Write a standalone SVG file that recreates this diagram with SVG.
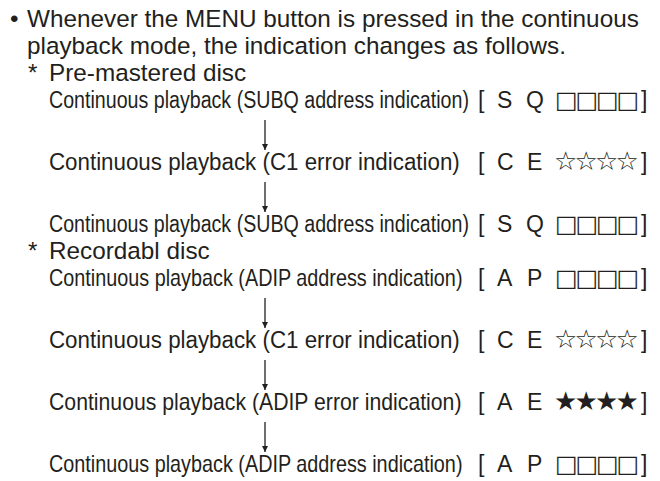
<svg xmlns="http://www.w3.org/2000/svg" width="660" height="481" viewBox="0 0 660 481">
<defs>
<style>
text{font-family:"Liberation Sans",Arial,Helvetica,sans-serif;fill:#231f20}
.h{font-size:24.3px}
.c{font-size:23px}
.s{font-family:"DejaVu Sans",sans-serif;font-size:24px}
.st{font-family:"DejaVu Sans",sans-serif;font-size:26px}
.cn{stroke:#231f20;stroke-width:1.3;fill:none}
</style>
<marker id="ah" viewBox="0 0 10 10" refX="10" refY="5" markerWidth="6" markerHeight="8" markerUnits="userSpaceOnUse" orient="auto"><path d="M0,0 L10,5 L0,10 z" fill="#231f20"/></marker>
</defs>
<rect width="660" height="481" fill="#fff"/>
<g id="intro">
<text class="h" x="10" y="27">•</text>
<text class="h" x="27" y="27">Whenever the MENU button is pressed in the continuous</text>
<text class="h" x="27" y="54">playback mode, the indication changes as follows.</text>
</g>
<g id="premastered">
<text class="h" x="28" y="81">*</text>
<text class="h" x="49" y="81">Pre-mastered disc</text>
</g>
<g id="n1"><text class="c" transform="translate(49,108) scale(0.8535,1)">Continuous playback (SUBQ address indication)</text><text class="c" x="478" y="108">[</text><text class="c" x="497" y="108">S</text><text class="c" x="526" y="108">Q</text><text class="s" x="555 575.5 596 616.5" y="108">□□□□</text><text class="c" x="641" y="108">]</text></g>
<g id="n2"><text class="c" transform="translate(49,170) scale(0.9714,1)">Continuous playback (C1 error indication)</text><text class="c" x="478" y="170">[</text><text class="c" x="497" y="170">C</text><text class="c" x="527" y="170">E</text><text class="st" x="554 574.5 595 615.5" y="170">☆☆☆☆</text><text class="c" x="641" y="170">]</text></g>
<g id="n3"><text class="c" transform="translate(49,232) scale(0.8535,1)">Continuous playback (SUBQ address indication)</text><text class="c" x="478" y="232">[</text><text class="c" x="497" y="232">S</text><text class="c" x="526" y="232">Q</text><text class="s" x="555 575.5 596 616.5" y="232">□□□□</text><text class="c" x="641" y="232">]</text></g>
<g id="recordable">
<text class="h" x="28" y="259">*</text>
<text class="h" x="49" y="259">Recordabl disc</text>
</g>
<g id="n4"><text class="c" transform="translate(49,286) scale(0.8614,1)">Continuous playback (ADIP address indication)</text><text class="c" x="478" y="286">[</text><text class="c" x="497" y="286">A</text><text class="c" x="527" y="286">P</text><text class="s" x="555 575.5 596 616.5" y="286">□□□□</text><text class="c" x="641" y="286">]</text></g>
<g id="n5"><text class="c" transform="translate(49,348) scale(0.9714,1)">Continuous playback (C1 error indication)</text><text class="c" x="478" y="348">[</text><text class="c" x="497" y="348">C</text><text class="c" x="527" y="348">E</text><text class="st" x="554 574.5 595 615.5" y="348">☆☆☆☆</text><text class="c" x="641" y="348">]</text></g>
<g id="n6"><text class="c" transform="translate(49,410) scale(0.9231,1)">Continuous playback (ADIP error indication)</text><text class="c" x="478" y="410">[</text><text class="c" x="497" y="410">A</text><text class="c" x="527" y="410">E</text><text class="st" x="554 574.5 595 615.5" y="410">★★★★</text><text class="c" x="641" y="410">]</text></g>
<g id="n7"><text class="c" transform="translate(49,472) scale(0.8614,1)">Continuous playback (ADIP address indication)</text><text class="c" x="478" y="472">[</text><text class="c" x="497" y="472">A</text><text class="c" x="527" y="472">P</text><text class="s" x="555 575.5 596 616.5" y="472">□□□□</text><text class="c" x="641" y="472">]</text></g>
<g id="connectors">
<line class="cn" x1="265" y1="120" x2="265" y2="150" marker-end="url(#ah)"/>
<line class="cn" x1="265" y1="182" x2="265" y2="212" marker-end="url(#ah)"/>
<line class="cn" x1="265" y1="298" x2="265" y2="328" marker-end="url(#ah)"/>
<line class="cn" x1="265" y1="360" x2="265" y2="390" marker-end="url(#ah)"/>
<line class="cn" x1="265" y1="422" x2="265" y2="452" marker-end="url(#ah)"/>
</g>
</svg>
